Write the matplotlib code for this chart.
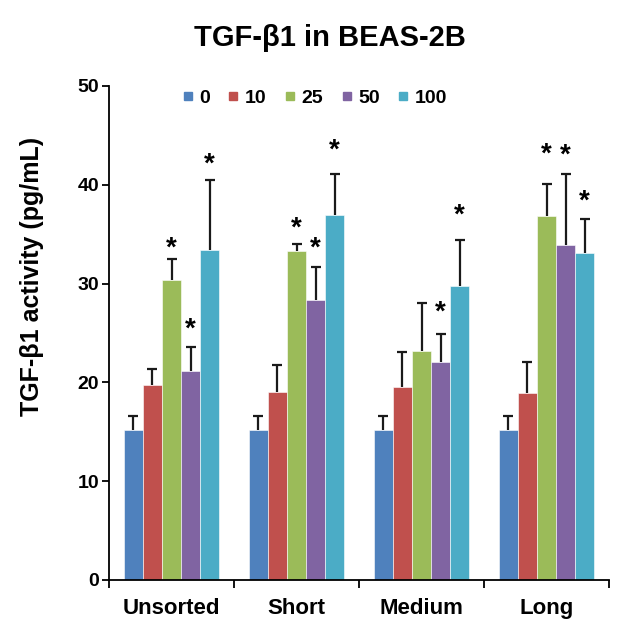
import matplotlib
matplotlib.use("Agg")
import matplotlib.pyplot as plt
from matplotlib.lines import Line2D
import numpy as np

plt.rcParams['font.family'] = ['Liberation Sans', 'DejaVu Sans']
plt.rcParams['font.weight'] = 'bold'

categories = ["Unsorted", "Short", "Medium", "Long"]
doses = ["0", "10", "25", "50", "100"]
colors = ["#4F81BD", "#C0504D", "#9BBB59", "#8064A2", "#4BACC6"]

# means per dose across categories
means = {
    "0":   [15.2, 15.2, 15.2, 15.2],
    "10":  [19.7, 19.0, 19.5, 18.9],
    "25":  [30.4, 33.3, 23.2, 36.8],
    "50":  [21.2, 28.3, 22.1, 33.9],
    "100": [33.4, 36.9, 29.8, 33.1],
}
errors = {
    "0":   [1.4, 1.4, 1.4, 1.4],
    "10":  [1.7, 2.8, 3.6, 3.2],
    "25":  [2.1, 0.7, 4.8, 3.3],
    "50":  [2.4, 3.4, 2.8, 7.2],
    "100": [7.1, 4.2, 4.6, 3.4],
}
# significance star heights (data units), None = no star
stars = {
    "0":   [None, None, None, None],
    "10":  [None, None, None, None],
    "25":  [34.1, 36.1, None, 43.6],
    "50":  [25.9, 34.1, 27.6, 43.5],
    "100": [42.6, 44.0, 37.4, 38.9],
}
yticks = [0, 10, 20, 30, 40, 50]

fig = plt.figure(figsize=(6.2, 6.22), dpi=100)
ax = fig.add_axes([109/620, 1-580/622, 500/620, 494/622])

bw = 0.153
centers = np.arange(len(categories)) + 0.5
for i, d in enumerate(doses):
    xs = centers + (i - 2) * bw
    m = np.array(means[d])
    e = np.array(errors[d])
    ax.bar(xs, m, width=bw, color=colors[i], edgecolor='white',
           linewidth=0.4, zorder=2)
    ax.vlines(xs, m, m + e, colors='#1a1a1a', linewidth=1.6, zorder=3)
    ax.plot(xs, m + e, linestyle='none', marker='_', markersize=7,
            markeredgewidth=1.6, color='#1a1a1a', zorder=3)
    for x, s in zip(xs, stars[d]):
        if s is not None:
            ax.annotate('*', (x, s), xytext=(0, -9), textcoords='offset points',
                        ha='center', va='baseline', fontsize=20, fontweight='bold')

ax.set_xlim(0, len(categories))
ax.set_ylim(0, 50)
ax.set_yticks(yticks)
ax.set_yticklabels([str(t) for t in yticks], fontsize=14, fontweight='bold')
ax.set_xticks(np.arange(len(categories) + 1))
ax.set_xticklabels([])
ax.set_xticks(centers, minor=True)
ax.set_xticklabels(categories, minor=True, fontsize=16, fontweight='bold')
ax.tick_params(axis='x', which='minor', length=0, pad=13)
ax.tick_params(axis='x', which='major', direction='out', length=6, width=1.3)
ax.tick_params(axis='y', direction='out', length=5, width=1.3, pad=2)
for sp in ['top', 'right']:
    ax.spines[sp].set_visible(False)
for sp in ['left', 'bottom']:
    ax.spines[sp].set_linewidth(1.3)

ax.set_ylabel("TGF-β1 activity (pg/mL)", fontsize=18, fontweight='bold')
ax.yaxis.set_label_coords(-0.13, 0.615)
fig.suptitle("TGF-β1 in BEAS-2B", fontsize=21, fontweight='bold', x=0.532, y=0.962)

handles = [Line2D([], [], marker='s', linestyle='none', markersize=6,
                  markerfacecolor=c, markeredgecolor=c) for c in colors]
leg = ax.legend(handles, doses, ncol=5, loc='center', bbox_to_anchor=(0.413, 0.976),
                frameon=False, handlelength=0.4, handletextpad=0.4, columnspacing=1.0,
                prop={'size': 14, 'weight': 'bold'})

fig.savefig("out.png", dpi=100)
